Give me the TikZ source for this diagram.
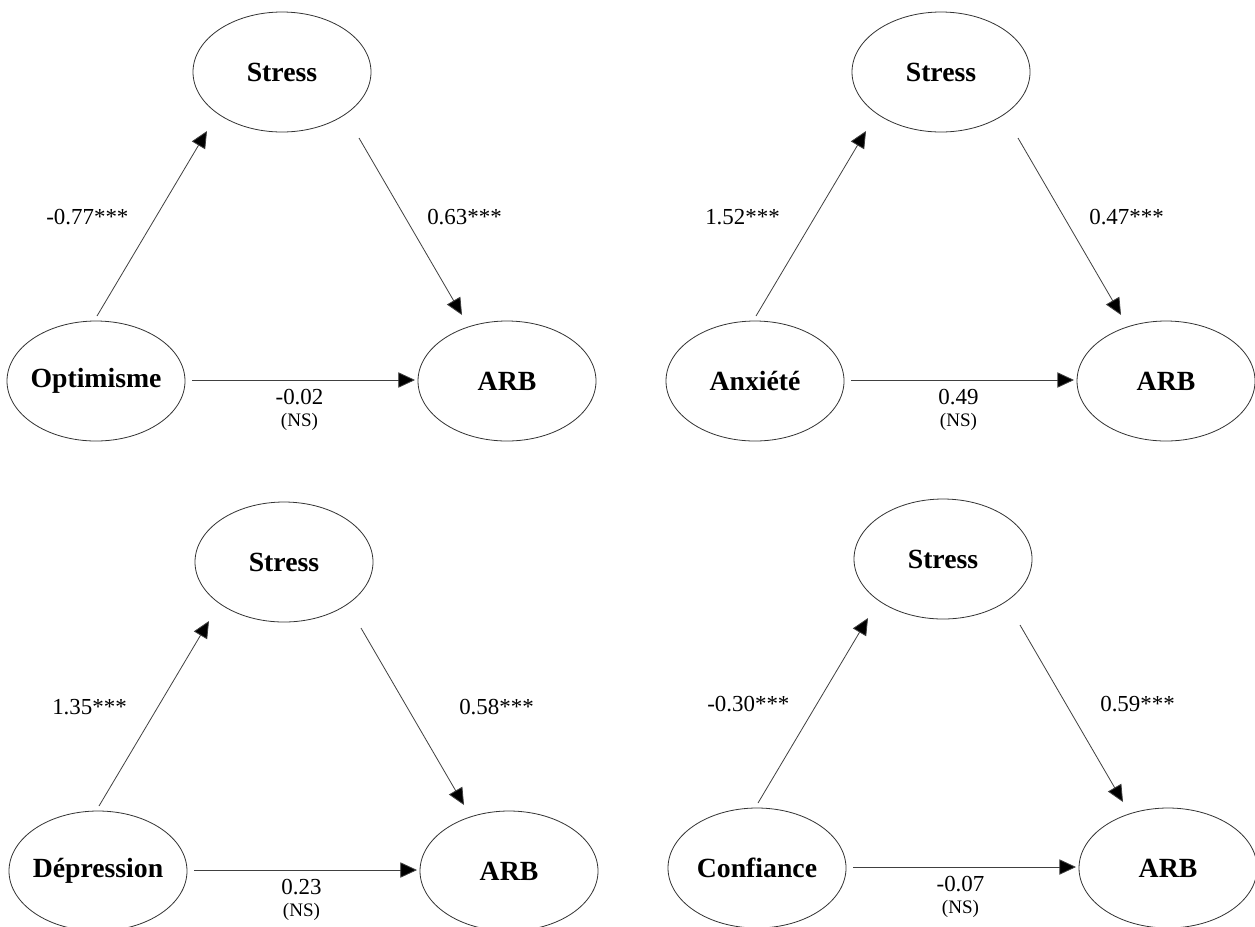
\documentclass[tikz,border=0pt]{standalone}
\usepackage{fontspec}
\setmainfont{Liberation Serif}
\usetikzlibrary{shapes.geometric,arrows.meta,calc}
\tikzset{
  var/.style={draw=black!80, line width=0.6pt, ellipse, inner sep=0pt, outer sep=0pt,
    minimum width=133.5pt, minimum height=90pt,
    font=\fontsize{20.8}{24}\selectfont\bfseries},
  conn/.style={draw=black!75, line width=0.6pt, -{Triangle[length=12.5pt,width=11.5pt,fill=black]}},
  coef/.style={font=\fontsize{17.2}{20}\selectfont, inner sep=0pt, anchor=west},
  hcoef/.style={font=\fontsize{17.2}{20}\selectfont, inner sep=0pt},
  ns/.style={font=\fontsize{14.3}{17}\selectfont, inner sep=0pt}
}
% #1 prefix, #2 dx, #3 dy, #4 left var, #5 up label, #6 up label x, #7 down label, #8 down label x, #9 h label
\newcommand\medpanel[9]{%
  \begin{scope}[shift={(#2,#3)}, name prefix=#1-]
    \node[var] (s) at (282,72) {\makebox[0pt]{Stress}};
    \node[var] (l) at (96,381) {\makebox[0pt]{#4}};
    \node[var] (r) at (507,381) {\makebox[0pt]{ARB}};
    \coordinate (us) at ($(l.center)+(1,-65)$);
    \coordinate (ut) at ($(s.center)+(-75,59)$);
    \coordinate (ds) at ($(s.center)+(77,66)$);
    \coordinate (dt) at ($(r.center)+(-45,-66)$);
    \coordinate (hs) at ($(l.center)+(96,-1)$);
    \coordinate (ht) at ($(r.center)+(-92,-1)$);
    \draw[conn] (us) -- (ut);
    \draw[conn] (ds) -- (dt);
    \draw[conn] (hs) -- (ht);
    \node[coef] (a) at (#6,217) {#5};
    \node[coef] (b) at (#8,217) {#7};
    \node[hcoef] (c) at ($(hs)!0.5!(ht)+(-4,17)$) {#9};
    \node[ns] (n) at ($(c.center)+(0,25)$) {(NS)};
  \end{scope}%
}
\begin{document}
\begin{tikzpicture}[x=0.75pt,y=-0.75pt]
  \fill[white] (0,0) rectangle (1255,926);
  \useasboundingbox (0,0) rectangle (1255,926);
  \medpanel{tl}{0}{0}{Optimisme}{-0.77***}{46}{0.63***}{427}{-0.02}
  \medpanel{tr}{659}{0}{Anxiété}{1.52***}{46}{0.47***}{430}{0.49}
  \medpanel{bl}{2}{490}{Dépression}{1.35***}{50}{0.58***}{457}{0.23}
  \medpanel{br}{661}{487}{Confiance}{-0.30***}{46}{0.59***}{439}{-0.07}
\end{tikzpicture}
\end{document}
